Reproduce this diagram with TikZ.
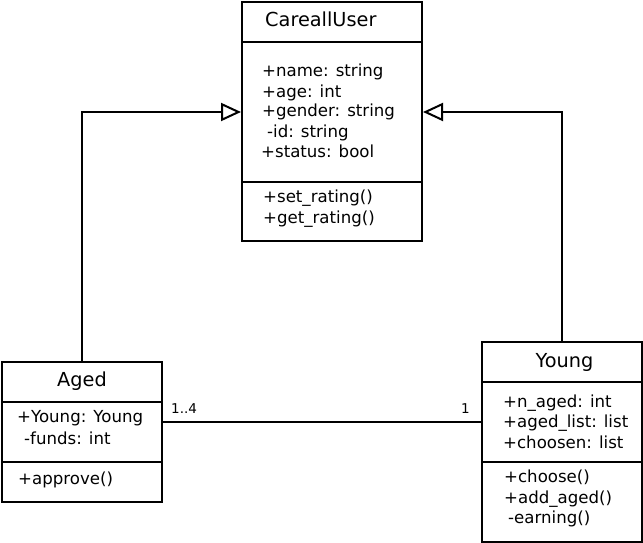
\documentclass[tikz,border=0pt]{standalone}
\usepackage{fontspec}
\setmainfont{DejaVu Sans}
\usetikzlibrary{arrows.meta}
\begin{document}
\begin{tikzpicture}[x=1pt,y=-1pt,
  cls/.style={draw,line width=2pt,inner sep=0pt},
  sep/.style={line width=2pt},
  conn/.style={line width=2pt},
  title/.style={anchor=base,inner sep=0pt,font=\fontsize{19.3}{20}\selectfont},
  mem/.style={anchor=base west,inner sep=0pt,font=\fontsize{16.6}{20}\selectfont},
  mult/.style={anchor=base west,inner sep=0pt,font=\fontsize{13.5}{14}\selectfont},
  inh/.style={conn,-{Triangle[open,length=20pt,width=18pt,line width=2pt]}}]
\useasboundingbox (0,0) rectangle (643,543);
% classes
\node[cls,minimum width=180pt,minimum height=239pt] (careall) at (332,121.5) {};
\node[cls,minimum width=160pt,minimum height=140pt] (aged) at (82,432) {};
\node[cls,minimum width=160pt,minimum height=200pt] (young) at (562,442) {};
% dividers
\draw[sep] (242,42) -- (422,42);
\draw[sep] (242,182) -- (422,182);
\draw[sep] (2,402) -- (162,402);
\draw[sep] (2,462) -- (162,462);
\draw[sep] (482,382) -- (642,382);
\draw[sep] (482,462) -- (642,462);
% CareallUser texts
\node[title,anchor=base west] (t1) at (265,27) {CareallUser};
\node[mem] (c1) at (262,77) {+name: string};
\node[mem] (c2) at (262,97) {+age: int};
\node[mem] (c3) at (262,117) {+gender: string};
\node[mem] (c4) at (267,137) {-id: string};
\node[mem] (c5) at (261,157) {+status: bool};
\node[mem] (c6) at (263,202) {+set\_rating()};
\node[mem] (c7) at (263,223) {+get\_rating()};
% Aged texts
\node[title] (t2) at (82,386) {Aged};
\node[mem] (a1) at (17,422) {+Young: Young};
\node[mem] (a2) at (24,444) {-funds: int};
\node[mem] (a3) at (18,484) {+approve()};
% Young texts
\node[title] (t3) at (564.5,367) {Young};
\node[mem] (y1) at (503,407) {+n\_aged: int};
\node[mem] (y2) at (503,427) {+aged\_list: list};
\node[mem] (y3) at (503,448) {+choosen: list};
\node[mem] (y4) at (504,482) {+choose()};
\node[mem] (y5) at (504,503) {+add\_aged()};
\node[mem] (y6) at (508,523) {-earning()};
% connectors
\draw[inh] (aged.north) |- ([yshift=9.5pt]careall.west);
\draw[inh] (young.north) |- ([yshift=9.5pt]careall.east);
\draw[conn] ([yshift=10pt]aged.east) -- ([yshift=20pt]young.west);
\node[mult] (m1) at (171,413) {1..4};
\node[mult,anchor=base east] (m2) at (470,413) {1};
\end{tikzpicture}
\end{document}
